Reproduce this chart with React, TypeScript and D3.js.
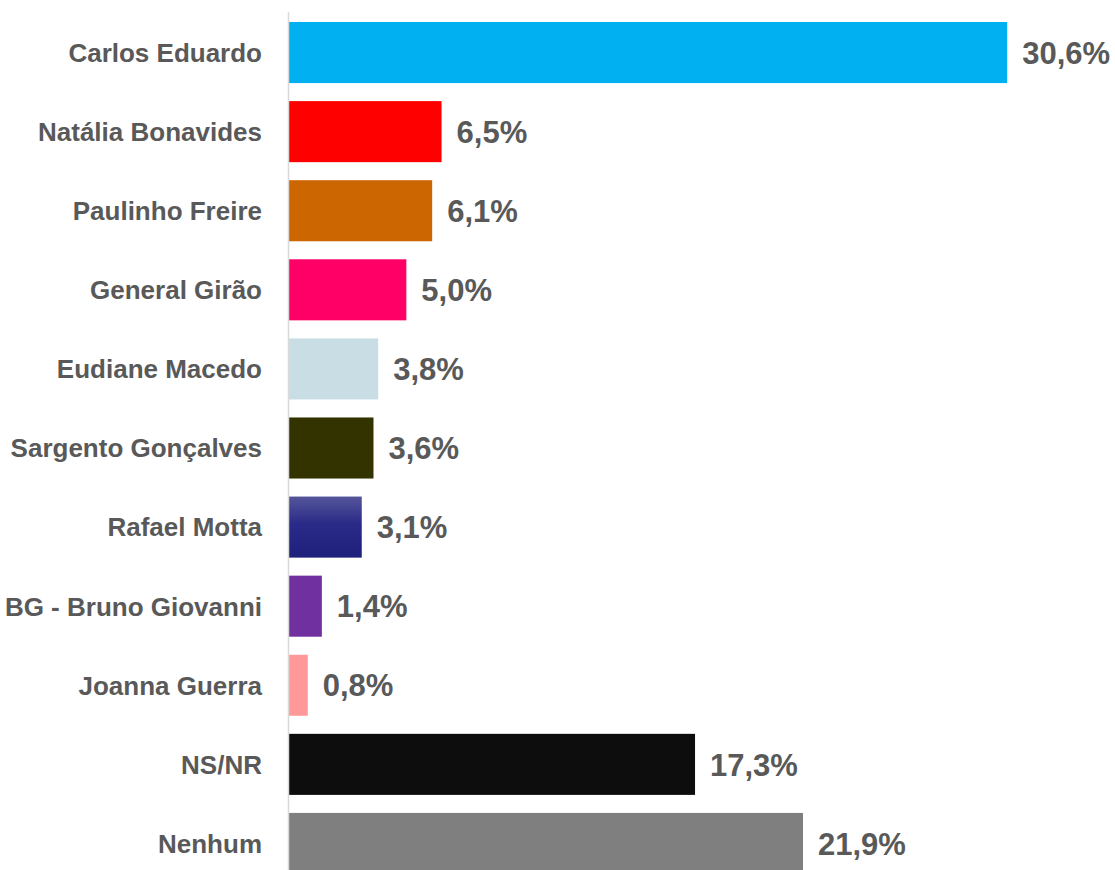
import { useEffect, useRef } from 'react'
import * as d3 from 'd3'

const candidates = [
  'Carlos Eduardo',
  'Natália Bonavides',
  'Paulinho Freire',
  'General Girão',
  'Eudiane Macedo',
  'Sargento Gonçalves',
  'Rafael Motta',
  'BG - Bruno Giovanni',
  'Joanna Guerra',
  'NS/NR',
  'Nenhum',
]
const shares = [30.6, 6.5, 6.1, 5.0, 3.8, 3.6, 3.1, 1.4, 0.8, 17.3, 21.9]
const barColors = [
  '#00b0f0',
  '#ff0000',
  '#cc6600',
  '#ff0066',
  '#c9dee4',
  '#333300',
  'url(#rafael-grad)',
  '#7030a0',
  '#ff9999',
  '#0d0d0d',
  '#7f7f7f',
]

const WIDTH = 1115
const HEIGHT = 870
const FONT = '"Liberation Sans", Arial, sans-serif'

export default function App() {
  const svgRef = useRef<SVGSVGElement>(null)

  useEffect(() => {
    if (!svgRef.current) return
    const svg = d3.select(svgRef.current)
    svg.selectAll('*').remove()

    const axisX = 288.5

    const x = d3.scaleLinear().domain([0, 35]).range([289, 289 + 35 * 23.47])
    const y = d3.scaleBand<string>()
      .domain(candidates)
      .range([13, 883])
      .paddingInner(0.228)
      .paddingOuter(0.114)

    // gradient for the Rafael Motta bar
    const defs = svg.append('defs')
    const grad = defs.append('linearGradient')
      .attr('id', 'rafael-grad')
      .attr('x1', 0).attr('y1', 0).attr('x2', 0).attr('y2', 1)
    grad.append('stop').attr('offset', '0%').attr('stop-color', '#55559a')
    grad.append('stop').attr('offset', '45%').attr('stop-color', '#2a2a88')
    grad.append('stop').attr('offset', '100%').attr('stop-color', '#1f1f7c')

    const rows = candidates.map((name, i) => ({ name, value: shares[i], color: barColors[i] }))

    svg.append('g')
      .selectAll('rect')
      .data(rows)
      .join('rect')
      .attr('x', x(0))
      .attr('y', d => y(d.name)!)
      .attr('width', d => x(d.value) - x(0))
      .attr('height', y.bandwidth())
      .attr('fill', d => d.color)

    // value labels
    svg.append('g')
      .selectAll('text')
      .data(rows)
      .join('text')
      .attr('x', d => x(d.value) + 15)
      .attr('y', d => y(d.name)! + y.bandwidth() / 2)
      .attr('dy', '0.36em')
      .style('font-family', FONT)
      .style('font-weight', 'bold')
      .style('font-size', '31px')
      .style('fill', '#595959')
      .text(d => d.value.toFixed(1).replace('.', ',') + '%')

    // category labels
    svg.append('g')
      .selectAll('text')
      .data(rows)
      .join('text')
      .attr('x', 262)
      .attr('y', d => y(d.name)! + y.bandwidth() / 2)
      .attr('dy', '0.36em')
      .attr('text-anchor', 'end')
      .style('font-family', FONT)
      .style('font-weight', 'bold')
      .style('font-size', '26px')
      .style('fill', '#595959')
      .text(d => d.name)

    // vertical axis line
    svg.append('line')
      .attr('x1', axisX).attr('x2', axisX)
      .attr('y1', 12).attr('y2', HEIGHT)
      .attr('stroke', '#d9d9d9')
      .attr('stroke-width', 1.5)
  }, [])

  return (
    <svg
      ref={svgRef}
      width={WIDTH}
      height={HEIGHT}
      style={{ position: 'absolute', left: 0, top: 0, display: 'block', background: '#fff' }}
    />
  )
}
